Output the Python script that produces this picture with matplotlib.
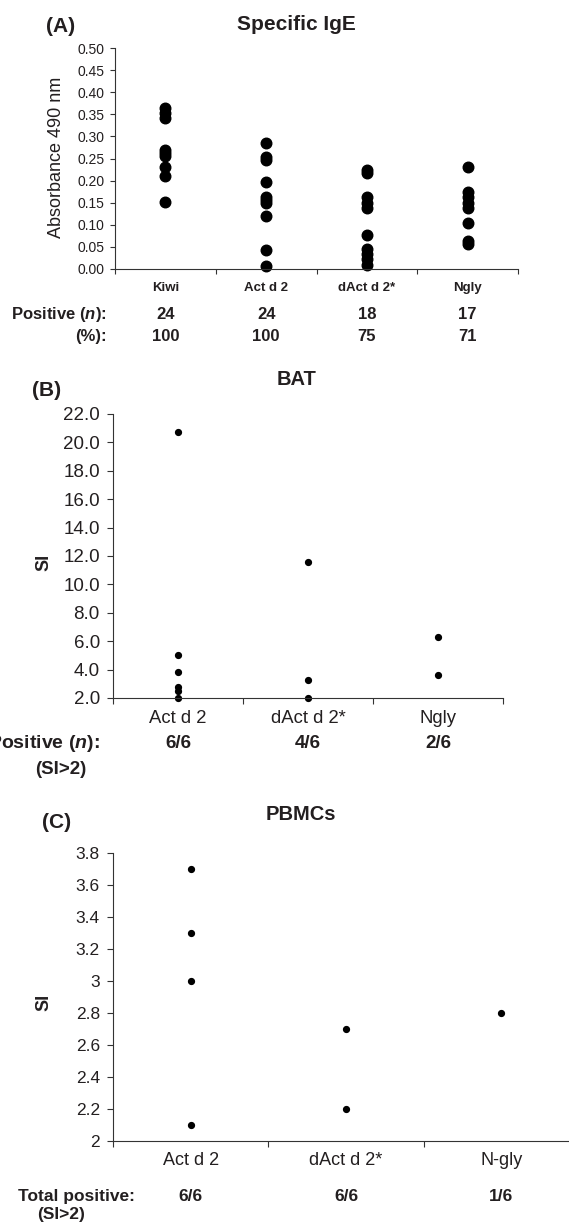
import matplotlib
matplotlib.use('Agg')
import matplotlib.pyplot as plt
import numpy as np

plt.rcParams['font.family'] = ['Liberation Sans', 'DejaVu Sans']
plt.rcParams['mathtext.fontset'] = 'custom'
plt.rcParams['mathtext.it'] = 'Liberation Sans:italic:bold'
plt.rcParams['mathtext.rm'] = 'Liberation Sans:bold'

INK = '#231f20'

# (A) Specific IgE - absorbance at 490 nm
ige_groups = ['Kiwi', 'Act d 2', 'dAct d 2*', 'Ngly']
ige_kiwi = [0.364, 0.353, 0.342, 0.270, 0.262, 0.256, 0.230, 0.211, 0.151]
ige_actd2 = [0.284, 0.253, 0.247, 0.197, 0.163, 0.157, 0.149, 0.121, 0.044, 0.006]
ige_dactd2 = [0.224, 0.217, 0.163, 0.150, 0.137, 0.077, 0.045, 0.035, 0.022, 0.009]
ige_ngly = [0.231, 0.175, 0.163, 0.150, 0.138, 0.105, 0.063, 0.056]
ige_pos_n = ['24', '24', '18', '17']
ige_pos_pct = ['100', '100', '75', '71']

# (B) BAT - stimulation index
bat_groups = ['Act d 2', 'dAct d 2*', 'Ngly']
bat_actd2 = [20.7, 5.0, 3.85, 2.75, 2.5, 2.0]
bat_dactd2 = [11.6, 3.3, 2.0]
bat_ngly = [6.3, 3.6]
bat_pos = ['6/6', '4/6', '2/6']

# (C) PBMCs - stimulation index
pbmc_groups = ['Act d 2', 'dAct d 2*', 'N-gly']
pbmc_actd2 = [3.7, 3.3, 3.0, 2.1]
pbmc_dactd2 = [2.7, 2.2]
pbmc_ngly = [2.8]
pbmc_pos = ['6/6', '6/6', '1/6']

W, H = 569, 1223
fig = plt.figure(figsize=(W / 100, H / 100), dpi=100)


def px_axes(left, top, right, bottom):
    return fig.add_axes([left / W, 1 - bottom / H, (right - left) / W, (bottom - top) / H])


def fig_text(x, y, s, **kw):
    kw.setdefault('color', INK)
    fig.text(x / W, 1 - y / H, s, **kw)


def style_axes(ax, n, tick_len, label_size):
    for side in ['top', 'right']:
        ax.spines[side].set_visible(False)
    for side in ['left', 'bottom']:
        ax.spines[side].set_color('#333333')
        ax.spines[side].set_linewidth(0.8)
    ax.set_xlim(-0.5, n - 0.5)
    ax.set_xticks(np.arange(n + 1) - 0.5)
    ax.set_xticklabels([])
    ax.tick_params(axis='x', length=tick_len, width=0.8, color='#333333')
    ax.tick_params(axis='y', length=tick_len, width=0.8, color='#333333',
                   labelsize=label_size, labelcolor=INK, pad=4.5)


def bottom_row(ax, labels, dy, **kw):
    for i, s in enumerate(labels):
        ax.annotate(s, xy=(i, 0), xycoords=('data', 'axes fraction'),
                    xytext=(0, dy), textcoords='offset points',
                    ha='center', va='center', color=INK, annotation_clip=False, **kw)


# ---------------- Panel A ----------------
axA = px_axes(115, 48, 518, 269)
for i, vals in enumerate([ige_kiwi, ige_actd2, ige_dactd2, ige_ngly]):
    axA.plot([i] * len(vals), vals, 'o', color='black', markersize=7.6, clip_on=False)
axA.set_ylim(0, 0.5)
axA.set_yticks(np.arange(0, 0.51, 0.05))
axA.set_yticklabels([f'{v:.2f}' for v in np.arange(0, 0.51, 0.05)])
style_axes(axA, 4, 3.5, 10)
axA.tick_params(axis='y', pad=4)
bottom_row(axA, ige_groups, -13.7, fontsize=9.5, fontweight='bold')
bottom_row(axA, ige_pos_n, -33, fontsize=12, fontweight='bold')
bottom_row(axA, ige_pos_pct, -48.5, fontsize=12, fontweight='bold')

fig_text(296, 24, 'Specific IgE', fontsize=15, fontweight='bold', ha='center', va='center')
fig_text(61, 27, '(A)', fontsize=15, fontweight='bold', ha='center', va='center')
fig_text(57, 157, 'Absorbance 490 nm', fontsize=13, rotation=90, ha='center', va='center')
fig_text(107, 315, r'Positive ($n$):', fontsize=12, fontweight='bold', ha='right', va='center')
fig_text(107, 337, '(%):', fontsize=12, fontweight='bold', ha='right', va='center')

# ---------------- Panel B ----------------
axB = px_axes(113, 414, 503, 698)
for i, vals in enumerate([bat_actd2, bat_dactd2, bat_ngly]):
    axB.plot([i] * len(vals), vals, 'o', color='black', markersize=4.2, clip_on=False)
axB.set_ylim(2, 22)
axB.set_yticks(np.arange(2, 22.1, 2))
axB.set_yticklabels([f'{v:.1f}' for v in np.arange(2, 22.1, 2)])
style_axes(axB, 3, 4, 13.5)
axB.tick_params(axis='y', pad=5.5)
bottom_row(axB, bat_groups, -15, fontsize=13.3)
bottom_row(axB, bat_pos, -32.5, fontsize=13.5, fontweight='bold')

fig_text(297, 380, 'BAT', fontsize=14.5, fontweight='bold', ha='center', va='center')
fig_text(47, 391, '(B)', fontsize=15, fontweight='bold', ha='center', va='center')
fig_text(44, 562, 'SI', fontsize=13, fontweight='bold', rotation=90, ha='center', va='center')
# the row header runs off the left edge in the original figure
fig_text(100, 743, r'Positive ($n$):', fontsize=14, fontweight='bold', ha='right', va='center')
fig_text(61, 770, '(SI>2)', fontsize=13.5, fontweight='bold', ha='center', va='center')

# ---------------- Panel C ----------------
axC = px_axes(113, 853, 579, 1141)
for i, vals in enumerate([pbmc_actd2, pbmc_dactd2, pbmc_ngly]):
    axC.plot([i] * len(vals), vals, 'o', color='black', markersize=4.2, clip_on=False)
axC.set_ylim(2, 3.8)
c_ticks = np.round(np.arange(2, 3.81, 0.2), 1)
axC.set_yticks(c_ticks)
axC.set_yticklabels([f'{v:g}' for v in c_ticks])
style_axes(axC, 3, 4, 12.5)
axC.tick_params(axis='y', pad=5.5)
bottom_row(axC, pbmc_groups, -14, fontsize=13)
bottom_row(axC, pbmc_pos, -40, fontsize=12.5, fontweight='bold')

fig_text(301, 814, 'PBMCs', fontsize=14.5, fontweight='bold', ha='center', va='center')
fig_text(57, 822, '(C)', fontsize=15, fontweight='bold', ha='center', va='center')
fig_text(44, 1002, 'SI', fontsize=13, fontweight='bold', rotation=90, ha='center', va='center')
fig_text(135, 1196, 'Total positive:', fontsize=12.5, fontweight='bold', ha='right', va='center')
fig_text(61, 1215, '(SI>2)', fontsize=12.5, fontweight='bold', ha='center', va='center')

fig.savefig('out.png', dpi=100)
